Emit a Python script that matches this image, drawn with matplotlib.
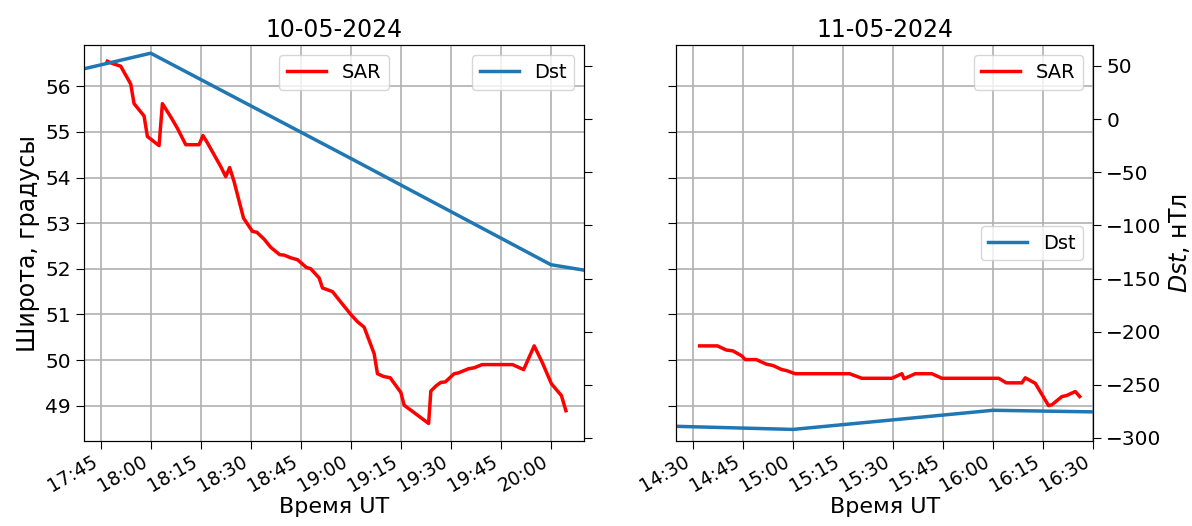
import datetime as dt
import matplotlib
matplotlib.use("Agg")
import matplotlib.pyplot as plt
import matplotlib.dates as mdates

# SAR latitude, 10-05-2024
sar1_time = ["17:47:00", "17:48:30", "17:51:00", "17:54:00", "17:55:00", "17:58:00", "17:59:00",
             "18:02:30", "18:03:30", "18:06:00", "18:08:00", "18:10:30", "18:14:30", "18:15:40",
             "18:17:00", "18:19:00", "18:21:00", "18:22:30", "18:23:40", "18:25:00", "18:27:50",
             "18:30:30", "18:31:50", "18:34:00", "18:36:00", "18:38:40", "18:40:00", "18:42:00",
             "18:44:00", "18:46:40", "18:48:00", "18:50:30", "18:51:30", "18:54:30", "18:57:00",
             "19:00:00", "19:02:00", "19:04:00", "19:07:00", "19:08:00", "19:09:50", "19:11:50",
             "19:15:00", "19:16:00", "19:23:20", "19:24:00", "19:25:40", "19:27:00", "19:28:20",
             "19:31:00", "19:32:20", "19:35:20", "19:37:00", "19:39:20", "19:48:30", "19:51:50",
             "19:55:00", "19:57:20", "20:00:10", "20:03:10", "20:04:30"]
sar1_lat = [56.55, 56.50, 56.44, 56.05, 55.62, 55.35, 54.90,
            54.70, 55.62, 55.33, 55.08, 54.72, 54.72, 54.92,
            54.76, 54.50, 54.24, 54.02, 54.22, 53.91, 53.11,
            52.82, 52.80, 52.65, 52.47, 52.31, 52.30, 52.24,
            52.20, 52.03, 52.00, 51.80, 51.58, 51.50, 51.27,
            51.00, 50.84, 50.72, 50.14, 49.70, 49.64, 49.61,
            49.29, 49.01, 48.61, 49.32, 49.44, 49.51, 49.52,
            49.70, 49.72, 49.81, 49.83, 49.90, 49.90, 49.79,
            50.31, 49.96, 49.48, 49.22, 48.89]

# SAR latitude, 11-05-2024
sar2_time = ["14:32:00", "14:37:20", "14:40:00", "14:42:00", "14:44:40", "14:45:40", "14:49:00",
             "14:52:00", "14:54:00", "14:56:40", "14:58:00", "15:00:40", "15:17:00", "15:20:40",
             "15:29:40", "15:32:40", "15:33:20", "15:36:40", "15:41:40", "15:44:40", "16:01:40",
             "16:04:00", "16:08:40", "16:09:40", "16:12:40", "16:16:40", "16:17:40", "16:20:40",
             "16:22:00", "16:24:40", "16:26:00"]
sar2_lat = [50.31, 50.31, 50.22, 50.20, 50.09, 50.01, 50.01,
            49.91, 49.88, 49.79, 49.77, 49.70, 49.70, 49.60,
            49.60, 49.70, 49.59, 49.70, 49.70, 49.60, 49.60,
            49.50, 49.50, 49.61, 49.49, 49.00, 49.02, 49.20,
            49.22, 49.31, 49.20]

# Dst index, nT
dst1_time = ["17:00", "18:00", "19:00", "20:00", "21:00"]
dst1_val = [18, 62, -37, -137, -168]
dst2_time = ["14:00", "15:00", "16:00", "17:00"]
dst2_val = [-287, -292, -274, -277]


def to_dt(day, times):
    out = []
    for t in times:
        parts = [int(p) for p in t.split(":")]
        while len(parts) < 3:
            parts.append(0)
        out.append(dt.datetime(2024, 5, day, parts[0], parts[1], parts[2]))
    return out


plt.rcParams['font.family'] = ['DejaVu Sans']

fig, (ax1, ax2) = plt.subplots(1, 2, figsize=(11.92, 5.26), dpi=100, sharey=True,
                               gridspec_kw=dict(width_ratios=[150, 125], wspace=0.2007,
                                                left=0.0705, right=0.917,
                                                bottom=0.162, top=0.914))

panels = [
    (ax1, 10, sar1_time, sar1_lat, dst1_time, dst1_val, (17, 40), (20, 10), "10-05-2024"),
    (ax2, 11, sar2_time, sar2_lat, dst2_time, dst2_val, (14, 25), (16, 30), "11-05-2024"),
]

for ax, day, st, sl, dtm, dv, x0, x1, title in panels:
    ax.plot(to_dt(day, st), sl, color='red', lw=2.5, label='SAR')
    ax.set_xlim(dt.datetime(2024, 5, day, *x0), dt.datetime(2024, 5, day, *x1))
    ax.set_ylim(48.23, 56.9)
    ax.set_yticks(range(49, 57))
    ax.grid(True, color='#b0b0b0', lw=1.2)
    ax.xaxis.set_major_locator(mdates.MinuteLocator(byminute=[0, 15, 30, 45]))
    ax.xaxis.set_major_formatter(mdates.DateFormatter('%H:%M'))
    ax.tick_params(axis='y', labelsize=14.5, length=6)
    ax.tick_params(axis='x', labelsize=13.5, length=6, pad=2)
    for lbl in ax.get_xticklabels():
        lbl.set_rotation(30)
        lbl.set_ha('right')
    ax.set_xlabel('Время UT', fontsize=16, labelpad=1)
    ax.set_title(title, fontsize=17)

    tw = ax.twinx()
    tw.plot(to_dt(day, dtm), dv, color='#1f77b4', lw=2.5, label='Dst')
    tw.set_ylim(-302.7, 69.5)
    tw.set_yticks(range(-300, 51, 50))
    tw.tick_params(labelsize=14.5, length=6)
    if ax is ax1:
        tw.tick_params(labelright=False)
        ax.legend(loc='upper center', fontsize=14)
        tw.legend(loc='upper right', fontsize=14)
    else:
        tw.set_ylabel('$Dst$, нТл', fontsize=17)
        ax.legend(loc='upper right', fontsize=14)
        tw.legend(loc='center right', fontsize=14)

ax1.set_ylabel('Широта, градусы', fontsize=17)
ax2.tick_params(labelleft=False)

fig.savefig('out.png', dpi=100)
